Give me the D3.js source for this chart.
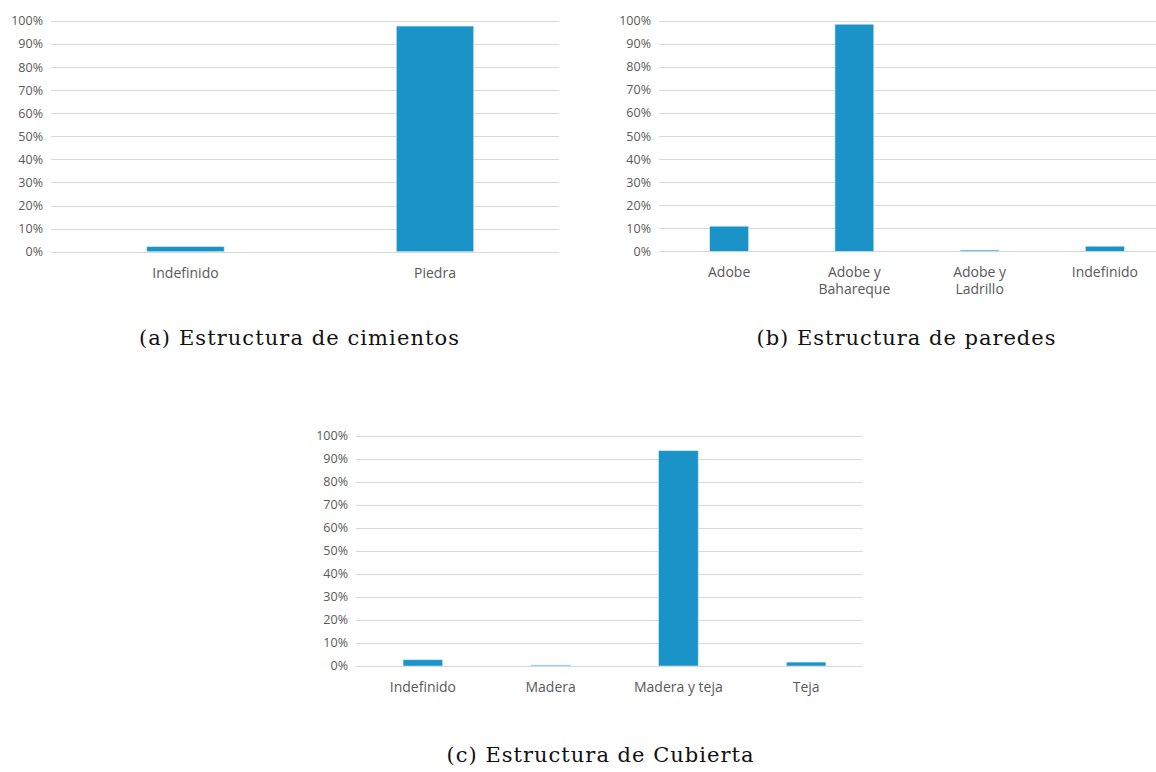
<!DOCTYPE html>
<meta charset="utf-8">
<html>
  <head>
    <title>estructuras</title>
    <script src="https://d3js.org/d3.v7.min.js"></script>
    <style>
      body { margin: 0; background: white; }
      .tick_label { font-family: "Open Sans", sans-serif; font-size: 12.5px; fill: #595959; }
      .cat_label { font-family: "Open Sans", sans-serif; font-size: 14px; fill: #595959; }
      .caption { font-family: "DejaVu Serif", serif; font-size: 21px; fill: #111; }
    </style>
  </head>

  <body>
    <div id="chart"></div>

    <script type="text/javascript">
        /* data (percent) */
        var cimientos_cats = ["Indefinido", "Piedra"];
        var cimientos_vals = [2.2, 97.8];

        var paredes_cats = ["Adobe", "Adobe y\nBahareque", "Adobe y\nLadrillo", "Indefinido"];
        var paredes_vals = [10.9, 98.6, 0.5, 2.2];

        var cubierta_cats = ["Indefinido", "Madera", "Madera y teja", "Teja"];
        var cubierta_vals = [2.7, 0.4, 93.6, 1.7];

        var y_ticks = [0, 10, 20, 30, 40, 50, 60, 70, 80, 90, 100];

        var captions = ["(a) Estructura de cimientos", "(b) Estructura de paredes", "(c) Estructura de Cubierta"];

        /* layout */
        var total_width = 1156, total_height = 772;
        var bar_color = "#1a93c8", grid_color = "#d9d9d9";

        var panels = [
            {cats: cimientos_cats, vals: cimientos_vals, grid: [51, 559], band: [60.75, 559.75], y0: 251.7, y100: 21, cap: [299, 345, 320]},
            {cats: paredes_cats, vals: paredes_vals, grid: [659, 1160], band: [666.5, 1167.5], y0: 251.3, y100: 21, cap: [906, 345, 299]},
            {cats: cubierta_cats, vals: cubierta_vals, grid: [356, 862.7], band: [359, 870], y0: 666, y100: 436, cap: [600, 762, 307]}
        ];

        var svg = d3.select("#chart").append("svg")
                .attr("width", total_width)
                .attr("height", total_height);

        panels.forEach(function(p, pi){
            var g = svg.append("g");

            var x = d3.scaleBand()
                .domain(p.cats)
                .range(p.band)
                .padding(0);
            var y = d3.scaleLinear()
                .domain([0, 100])
                .range([p.y0, p.y100]);

            /* gridlines */
            g.append("g").selectAll("line")
                .data(y_ticks)
                .enter().append("line")
                .attr("x1", p.grid[0])
                .attr("x2", p.grid[1])
                .attr("y1", function(d){ return Math.round(y(d)) + 0.5; })
                .attr("y2", function(d){ return Math.round(y(d)) + 0.5; })
                .attr("stroke", grid_color)
                .attr("stroke-width", 1);

            /* y tick labels */
            g.append("g").selectAll("text")
                .data(y_ticks)
                .enter().append("text")
                .attr("class", "tick_label")
                .attr("x", p.grid[0] - 8)
                .attr("y", function(d){ return y(d); })
                .attr("dy", "0.35em")
                .attr("text-anchor", "end")
                .text(function(d){ return d + "%"; });

            /* bars */
            var data = p.cats.map(function(c, i){ return {cat: c, val: p.vals[i]}; });
            var bw = x.bandwidth() * 0.31;
            g.append("g").selectAll("rect")
                .data(data)
                .enter().append("rect")
                .attr("x", function(d){ return x(d.cat) + (x.bandwidth() - bw) / 2; })
                .attr("y", function(d){ return y(d.val); })
                .attr("width", bw)
                .attr("height", function(d){ return y(0) - y(d.val); })
                .attr("fill", bar_color)
                .attr("stroke", "#cfe6f2")
                .attr("stroke-width", 0.6);

            /* category labels, may wrap on two lines */
            var labels = g.append("g").selectAll("text")
                .data(data)
                .enter().append("text")
                .attr("class", "cat_label")
                .attr("text-anchor", "middle")
                .attr("x", function(d){ return x(d.cat) + x.bandwidth() / 2; })
                .attr("y", p.y0 + 26);
            labels.selectAll("tspan")
                .data(function(d){ return d.cat.split("\n").map(function(t){ return {t: t, cx: x(d.cat) + x.bandwidth() / 2}; }); })
                .enter().append("tspan")
                .attr("x", function(d){ return d.cx; })
                .attr("dy", function(d, i){ return i == 0 ? 0 : 17; })
                .text(function(d){ return d.t; });

            /* caption */
            svg.append("text")
                .attr("class", "caption")
                .attr("x", p.cap[0])
                .attr("y", p.cap[1])
                .attr("text-anchor", "middle")
                .attr("textLength", p.cap[2])
                .attr("lengthAdjust", "spacing")
                .text(captions[pi]);
        });
    </script>
  </body>
</html>
